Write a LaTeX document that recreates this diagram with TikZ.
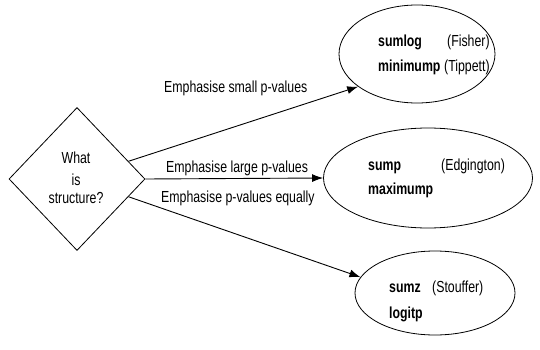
\documentclass[tikz,border=0pt]{standalone}
\usepackage{fontspec}
\setmainfont[FakeStretch=0.77]{Liberation Sans}
\usetikzlibrary{shapes.geometric,arrows.meta}
\begin{document}
\begin{tikzpicture}[x=1pt,y=-1pt,
  every node/.style={font=\fontsize{16}{19}\selectfont},
  txt/.style={inner sep=0pt,anchor=base west},
  ctxt/.style={inner sep=0pt,anchor=base},
  oval/.style={draw,ellipse,line width=0.8pt,inner sep=0pt},
  conn/.style={line width=0.9pt,-{Latex[length=11pt,width=8pt]}},
  ]
\useasboundingbox (0,0) rectangle (540,350);
\node[draw,diamond,line width=0.8pt,minimum width=136pt,minimum height=143pt,inner sep=0pt] (d) at (77,179) {};
\node[ctxt] (t1) at (76,163) {What};
\node[ctxt] (t2) at (76,185) {is};
\node[ctxt] (t3) at (76,203) {structure?};

\node[oval,minimum width=156pt,minimum height=98pt] (e1) at (417,54) {};
\node[oval,minimum width=209pt,minimum height=100pt] (e2) at (428,178) {};
\node[oval,minimum width=160pt,minimum height=84pt] (e3) at (435,293) {};

\node[txt] (a1) at (378,47) {\textbf{sumlog}};
\node[txt] (a2) at (378,72) {\textbf{minimump}};
\node[txt] (a3) at (447,47) {(Fisher)};
\node[txt] (a4) at (444,72) {(Tippett)};

\node[txt] (b1) at (368,170) {\textbf{sump}};
\node[txt] (b2) at (368,194) {\textbf{maximump}};
\node[txt] (b3) at (441,170) {(Edgington)};

\node[txt] (c1) at (389,292) {\textbf{sumz}};
\node[txt] (c2) at (389,318) {\textbf{logitp}};
\node[txt] (c3) at (432,292) {(Stouffer)};

\node[txt] (l1) at (164,93) {Emphasise small p-values};
\node[txt] (l2) at (166,172) {Emphasise large p-values};
\node[txt] (l3) at (161,202) {Emphasise p-values equally};

\draw[conn] (d.19) -- (e1.209);
\draw[conn] (d.east) -- (e2.west);
\draw[conn] (d.-19) -- (e3.168);
\end{tikzpicture}
\end{document}
